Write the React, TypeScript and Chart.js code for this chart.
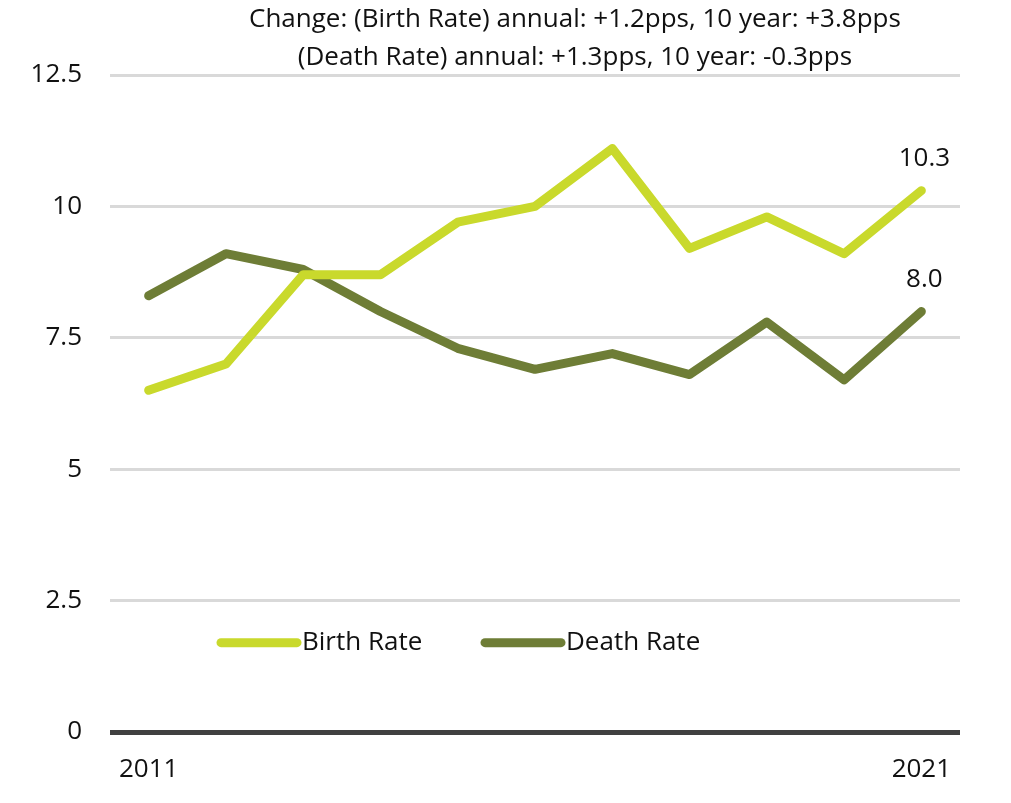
import React, { useEffect, useRef } from "react";
import { Chart, registerables } from "chart.js";

Chart.register(...registerables);

const years = ["2011", "2012", "2013", "2014", "2015", "2016", "2017", "2018", "2019", "2020", "2021"];
const birthRate = [6.5, 7.0, 8.7, 8.7, 9.7, 10.0, 11.1, 9.2, 9.8, 9.1, 10.3];
const deathRate = [8.3, 9.1, 8.8, 8.0, 7.3, 6.9, 7.2, 6.8, 7.8, 6.7, 8.0];
const titleLines = [
  "Change: (Birth Rate) annual: +1.2pps, 10 year: +3.8pps",
  "(Death Rate) annual: +1.3pps, 10 year: -0.3pps",
];
const seriesNames = ["Birth Rate", "Death Rate"];
const seriesColors = ["#c9d92c", "#6e7d36"];

const FONT = "'Open Sans', Lato, sans-serif";
const SIZE = 26;
const TEXT = "#111111";

const overlayPlugin = {
  id: "overlay",
  afterDatasetsDraw(chart: any) {
    const ctx = chart.ctx;
    const area = chart.chartArea;
    ctx.save();
    // Title
    ctx.fillStyle = TEXT;
    ctx.font = `${SIZE}px ${FONT}`;
    ctx.textAlign = "center";
    ctx.textBaseline = "middle";
    const cx = area.left + (area.right - area.left) * 0.547;
    ctx.fillText(titleLines[0], cx, 20);
    ctx.fillText(titleLines[1], cx, 58);

    // Last-point labels
    chart.data.datasets.forEach((ds: any, i: number) => {
      const meta = chart.getDatasetMeta(i);
      const last = meta.data[meta.data.length - 1];
      const v = ds.data[ds.data.length - 1];
      ctx.fillText(v.toFixed(1), last.x + 3, last.y - 32);
    });

    // Legend inside chart area
    const yScale = chart.scales.y;
    const ly = yScale.getPixelForValue(1.7);
    const starts = [area.left + 107, area.left + 371];
    ctx.textAlign = "left";
    ctx.lineCap = "round";
    chart.data.datasets.forEach((ds: any, i: number) => {
      const x0 = starts[i];
      ctx.strokeStyle = ds.borderColor;
      ctx.lineWidth = 9;
      ctx.beginPath();
      ctx.moveTo(x0 + 4, ly);
      ctx.lineTo(x0 + 80, ly);
      ctx.stroke();
      ctx.fillStyle = TEXT;
      ctx.fillText(ds.label, x0 + 85, ly);
    });
    ctx.restore();
  },
};

export default function App() {
  const ref = useRef<HTMLCanvasElement>(null);
  useEffect(() => {
    document.body.style.margin = "0";
    const chart = new Chart(ref.current as HTMLCanvasElement, {
      type: "line",
      data: {
        labels: years,
        datasets: [
          {
            label: seriesNames[0],
            data: birthRate,
            borderColor: seriesColors[0],
            backgroundColor: seriesColors[0],
            borderWidth: 9,
            pointRadius: 0,
            tension: 0,
            borderCapStyle: "round",
            borderJoinStyle: "round",
          },
          {
            label: seriesNames[1],
            data: deathRate,
            borderColor: seriesColors[1],
            backgroundColor: seriesColors[1],
            borderWidth: 9,
            pointRadius: 0,
            tension: 0,
            borderCapStyle: "round",
            borderJoinStyle: "round",
          },
        ],
      },
      options: {
        animation: false,
        responsive: false,
        devicePixelRatio: 1,
        layout: { padding: { left: 0, right: 51, top: 75, bottom: 0 } },
        plugins: {
          legend: { display: false },
          title: { display: false },
          tooltip: { enabled: false },
        },
        scales: {
          x: {
            offset: true,
            grid: { display: false, drawTicks: false },
            border: { display: false },
            ticks: {
              autoSkip: false,
              maxRotation: 0,
              padding: 22,
              color: TEXT,
              font: { family: FONT, size: SIZE },
              callback: (_v: any, i: number) => (i === 0 || i === years.length - 1 ? years[i] : ""),
            },
            afterFit: (s: any) => {
              s.height = 71;
            },
          },
          y: {
            min: 0,
            max: 12.5,
            ticks: {
              stepSize: 2.5,
              padding: 28,
              color: TEXT,
              font: { family: FONT, size: SIZE },
              callback: (v: any) => String(v),
            },
            grid: {
              drawTicks: false,
              color: (c: any) => (c.tick && c.tick.value === 0 ? "#404040" : "#d9d9d9"),
              lineWidth: (c: any) => (c.tick && c.tick.value === 0 ? 5 : 3),
            },
            border: { display: false },
            afterFit: (s: any) => {
              s.width = 110;
            },
          },
        },
      },
      plugins: [overlayPlugin],
    });
    return () => chart.destroy();
  }, []);
  return (
    <div style={{ width: 1011, height: 803, background: "#fff" }}>
      <canvas ref={ref} width={1011} height={803} />
    </div>
  );
}
